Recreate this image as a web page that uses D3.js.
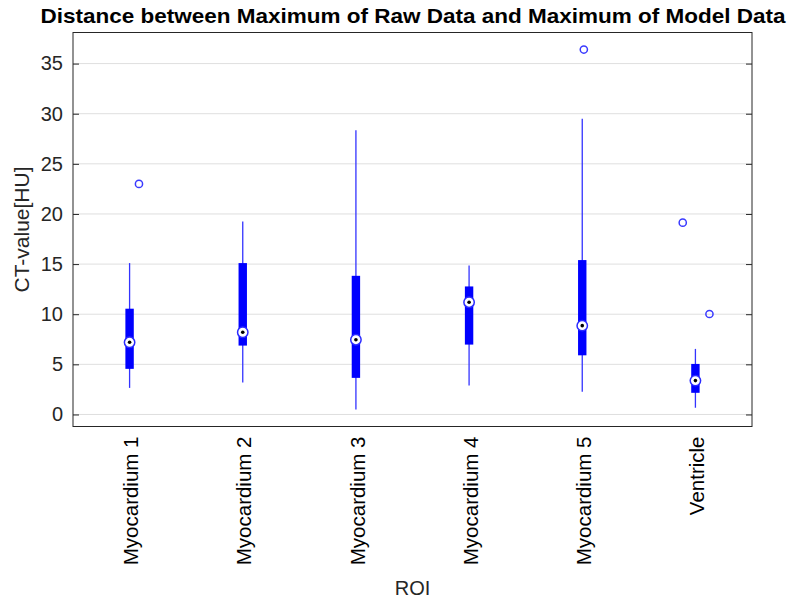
<!DOCTYPE html>
<html><head><meta charset="utf-8">
<script src="https://cdn.jsdelivr.net/npm/d3@7"></script>
<style>body{margin:0;background:#fff}svg{display:block}</style>
</head><body>
<svg id="chart" width="789" height="601"></svg>
<script>
const categories = ["Myocardium 1","Myocardium 2","Myocardium 3","Myocardium 4","Myocardium 5","Ventricle"];
const whiskerLow  = [2.65, 3.2, 0.5, 2.9, 2.26, 0.67];
const q1          = [4.55, 6.87, 3.65, 6.97, 5.9, 2.16];
const medians     = [7.2, 8.2, 7.46, 11.2, 8.86, 3.38];
const q3          = [10.55, 15.1, 13.83, 12.77, 15.4, 5.04];
const whiskerHigh = [15.1, 19.25, 28.36, 14.86, 29.5, 6.54];
// outliers: [categoryIndex, value, jitter (fraction of category step)]
const outlierCat    = [0, 4, 5, 5];
const outlierVal    = [23.0, 36.4, 19.13, 10.02];
const outlierJitter = [0.083, 0.014, -0.112, 0.124];
const yTicks = [0,5,10,15,20,25,30,35];

const svg = d3.select("#chart");
const m = {l:73, r:752, t:32.5, b:426.5};
const x = d3.scalePoint().domain(categories).range([m.l, m.r]).padding(0.5);
const y = d3.scaleLinear().domain([-1.2, 38.1]).range([m.b, m.t]);
const step = x.step();
const font = "'Liberation Sans', Arial, Helvetica, sans-serif";

// grid
svg.append("g").selectAll("line").data(yTicks).join("line")
  .attr("x1", m.l).attr("x2", m.r)
  .attr("y1", d=>y(d)).attr("y2", d=>y(d))
  .attr("stroke", "#dfdfdf").attr("stroke-width", 1);

// left axis
const yAxis = d3.axisLeft(y).tickValues(yTicks).tickSizeInner(-6).tickSizeOuter(0).tickPadding(10);
const gy = svg.append("g").attr("transform", `translate(${m.l},0)`).call(yAxis);
gy.select(".domain").remove();
gy.selectAll("line").attr("stroke", "#262626");
gy.selectAll("text").attr("font-family", font).attr("font-size", 20).attr("fill", "#262626");
// right ticks
const gyr = svg.append("g").attr("transform", `translate(${m.r},0)`)
  .call(d3.axisRight(y).tickValues(yTicks).tickSizeInner(-6).tickSizeOuter(0).tickFormat(""));
gyr.select(".domain").remove();
gyr.selectAll("line").attr("stroke", "#262626");

// x axis labels
const gx = svg.append("g").attr("transform", `translate(0,${m.b})`)
  .call(d3.axisBottom(x).tickSize(0).tickPadding(0));
gx.select(".domain").remove();
gx.selectAll("text")
  .attr("font-family", font).attr("font-size", 20.5).attr("fill", "#000")
  .attr("text-anchor", "end").attr("dy", "0.35em")
  .attr("transform", "translate(1,10) rotate(-90)").attr("x", 0).attr("y", 0);

// frame
svg.append("rect").attr("x", m.l).attr("y", m.t).attr("width", m.r-m.l).attr("height", m.b-m.t)
  .attr("fill", "none").attr("stroke", "#262626").attr("stroke-width", 1);

// boxes
const idx = d3.range(categories.length);
const g = svg.append("g");
g.selectAll(".wh").data(idx).join("line")
  .attr("x1", i=>x(categories[i])).attr("x2", i=>x(categories[i]))
  .attr("y1", i=>y(whiskerLow[i])).attr("y2", i=>y(whiskerHigh[i]))
  .attr("stroke", "#3333ff").attr("stroke-width", 1.3);
g.selectAll(".bx").data(idx).join("rect")
  .attr("x", i=>x(categories[i])-4.2).attr("width", 8.4)
  .attr("y", i=>y(q3[i])).attr("height", i=>y(q1[i])-y(q3[i]))
  .attr("fill", "#0000ff");
g.selectAll(".md").data(idx).join("circle")
  .attr("cx", i=>x(categories[i])).attr("cy", i=>y(medians[i])).attr("r", 5.2)
  .attr("fill", "#fff").attr("stroke", "#2b2bff").attr("stroke-width", 1.5);
g.selectAll(".mdd").data(idx).join("circle")
  .attr("cx", i=>x(categories[i])).attr("cy", i=>y(medians[i])).attr("r", 1.8)
  .attr("fill", "#000");
g.selectAll(".out").data(d3.range(outlierVal.length)).join("circle")
  .attr("cx", j=>x(categories[outlierCat[j]]) + outlierJitter[j]*step)
  .attr("cy", j=>y(outlierVal[j])).attr("r", 3.6)
  .attr("fill", "none").attr("stroke", "#3a3aff").attr("stroke-width", 1.5);

// title
svg.append("text").attr("x", 413).attr("y", 23).attr("text-anchor", "middle")
  .attr("font-family", font).attr("font-size", 21).attr("font-weight", "bold").attr("fill", "#000")
  .attr("textLength", 745).attr("lengthAdjust", "spacingAndGlyphs")
  .text("Distance between Maximum of Raw Data and Maximum of Model Data");
// y label
svg.append("text").attr("transform", `translate(29,${(m.t+m.b)/2}) rotate(-90)`)
  .attr("text-anchor", "middle").attr("font-family", font).attr("font-size", 21).attr("fill", "#262626")
  .text("CT-value[HU]");
// x label
svg.append("text").attr("x", (m.l+m.r)/2).attr("y", 595).attr("text-anchor", "middle")
  .attr("font-family", font).attr("font-size", 20).attr("fill", "#262626").text("ROI");
</script>
</body></html>
